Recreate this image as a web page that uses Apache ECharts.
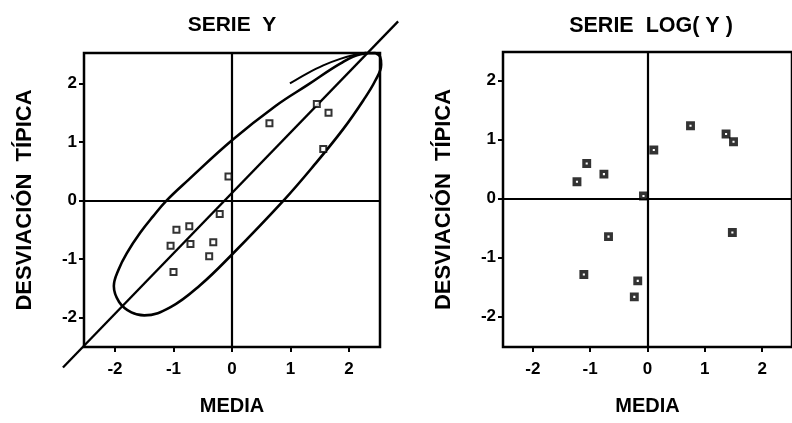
<!DOCTYPE html>
<html>
<head>
<meta charset="utf-8">
<script src="https://cdn.jsdelivr.net/npm/echarts@6/dist/echarts.min.js"></script>
<style>html,body{margin:0;padding:0;background:#fff}#c{width:792px;height:423px}</style>
</head>
<body>
<div id="c"></div>
<script>
// ---- data ----
const xTickValues = [-2, -1, 0, 1, 2];
const yTickValues = [-2, -1, 0, 1, 2];
const titles = ['SERIE  Y', 'SERIE  LOG( Y )'];
const xName = 'MEDIA';
const yName = 'DESVIACIÓN  TÍPICA';

// left panel: serie Y (media, desviación típica)
const serieY = [
  [1.45, 1.65], [1.65, 1.50], [1.56, 0.88], [0.64, 1.32], [-0.06, 0.41],
  [-0.21, -0.23], [-0.95, -0.50], [-0.73, -0.44], [-0.71, -0.74],
  [-1.05, -0.77], [-0.32, -0.71], [-0.39, -0.95], [-1.00, -1.22]
];
// right panel: serie log(Y)
const serieLogY = [
  [-1.06, 0.59], [-0.76, 0.41], [-1.23, 0.28], [-0.07, 0.04], [0.11, 0.82],
  [0.75, 1.23], [1.37, 1.09], [1.50, 0.96], [1.48, -0.58], [-0.68, -0.65],
  [-1.11, -1.29], [-0.17, -1.40], [-0.23, -1.67]
];
// diagonal line (extends beyond the frame)
const diagonal = [[-2.89, -2.85], [2.84, 3.06]];
// ellipse outline
const ellipse = [
  [2.45, 2.52], [2.20, 2.50], [1.85, 2.34], [1.30, 1.98], [0.75, 1.62],
  [0.00, 1.03], [-0.75, 0.35], [-1.12, 0.00], [-1.35, -0.27],
  [-1.57, -0.55], [-1.80, -0.90], [-1.94, -1.18], [-2.02, -1.46], [-1.93, -1.73],
  [-1.72, -1.91], [-1.50, -1.96], [-1.05, -1.82], [-0.55, -1.45], [0.00, -0.92],
  [0.88, 0.00], [1.40, 0.60], [1.90, 1.22], [2.25, 1.72], [2.45, 2.05],
  [2.55, 2.32], [2.53, 2.46], [2.45, 2.52]
];
// extra arc near top right
const extraArc = [[0.99, 2.00], [1.28, 2.17], [1.56, 2.31], [1.85, 2.42], [2.10, 2.49], [2.30, 2.53]];

// ---- chart ----
const font = 'Liberation Sans, Arial, sans-serif';
function xAxisCfg(gi, min, max) {
  return {
    type: 'value', gridIndex: gi, min: min, max: max,
    name: xName, nameLocation: 'middle', nameGap: 49,
    nameTextStyle: { fontFamily: font, fontSize: 20, fontWeight: 'bold', color: '#000' },
    axisLine: { show: false, onZero: false },
    axisTick: { show: true, length: 5, lineStyle: { color: '#000', width: 2 }, customValues: xTickValues },
    axisLabel: { margin: 14, fontFamily: font, fontSize: 17, fontWeight: 'bold', color: '#000', customValues: xTickValues },
    splitLine: { show: false }
  };
}
function yAxisCfg(gi, min, max) {
  return {
    type: 'value', gridIndex: gi, min: min, max: max,
    name: yName, nameLocation: 'middle', nameGap: 48, nameRotate: 90,
    nameTextStyle: { fontFamily: font, fontSize: 22, fontWeight: 'bold', color: '#000' },
    axisLine: { show: false, onZero: false },
    axisTick: { show: true, length: 5, lineStyle: { color: '#000', width: 2 }, customValues: yTickValues },
    axisLabel: { margin: 7, fontFamily: font, fontSize: 17, fontWeight: 'bold', color: '#000', customValues: yTickValues },
    splitLine: { show: false }
  };
}
function hiddenAxis(gi, min, max) {
  return { type: 'value', gridIndex: gi, min: min, max: max, show: false,
    axisLine: { show: false, onZero: false }, splitLine: { show: false } };
}
const crossLines = {
  silent: true, symbol: ['none', 'none'], animation: false,
  label: { show: false },
  lineStyle: { color: '#000', width: 2.2, type: 'solid' },
  emphasis: { disabled: true },
  data: [{ xAxis: 0 }, { yAxis: 0 }]
};
const chart = echarts.init(document.getElementById('c'), null, { renderer: 'canvas' });
chart.setOption({
  backgroundColor: '#fff',
  animation: false,
  title: [
    { text: titles[0], left: 227, top: 10, textAlign: 'center',
      textStyle: { fontFamily: font, fontSize: 21, fontWeight: 'bold', color: '#000' } },
    { text: titles[1], left: 646, top: 10, textAlign: 'center',
      textStyle: { fontFamily: font, fontSize: 21.5, fontWeight: 'bold', color: '#000' } }
  ],
  grid: [
    { left: 84, right: 412, top: 53, bottom: 76, show: true, borderColor: '#000', borderWidth: 2.5, backgroundColor: 'transparent' },
    { left: 503, right: -7, top: 52, bottom: 76, show: true, borderColor: '#000', borderWidth: 2.5, backgroundColor: 'transparent' },
    // same scale as grid 0, enlarged so the overlay lines may pass beyond the frame
    { left: 56.51, right: 384.5, top: 13.19, bottom: 46.71, show: false }
  ],
  xAxis: [xAxisCfg(0, -2.53, 2.53), xAxisCfg(1, -2.52, 2.52), hiddenAxis(2, -3, 3)],
  yAxis: [yAxisCfg(0, -2.5, 2.52), yAxisCfg(1, -2.52, 2.48), hiddenAxis(2, -3, 3.2)],
  series: [
    { type: 'line', xAxisIndex: 2, yAxisIndex: 2, data: diagonal, clip: false, symbol: 'none',
      lineStyle: { color: '#000', width: 2.3 }, silent: true },
    { type: 'line', xAxisIndex: 2, yAxisIndex: 2, data: ellipse, clip: false, symbol: 'none', smooth: 0.4,
      lineStyle: { color: '#000', width: 2.6 }, silent: true },
    { type: 'line', xAxisIndex: 2, yAxisIndex: 2, data: extraArc, clip: false, symbol: 'none', smooth: 0.4,
      lineStyle: { color: '#000', width: 2 }, silent: true },
    { type: 'scatter', xAxisIndex: 0, yAxisIndex: 0, data: serieY, symbol: 'rect', symbolSize: 6,
      itemStyle: { color: '#fff', borderColor: '#000', borderWidth: 2 }, markLine: crossLines, z: 5 },
    { type: 'scatter', xAxisIndex: 1, yAxisIndex: 1, data: serieLogY, symbol: 'rect', symbolSize: 5.5,
      itemStyle: { color: '#fff', borderColor: '#000', borderWidth: 3.4 }, markLine: crossLines, z: 5 }
  ]
});
</script>
</body>
</html>
